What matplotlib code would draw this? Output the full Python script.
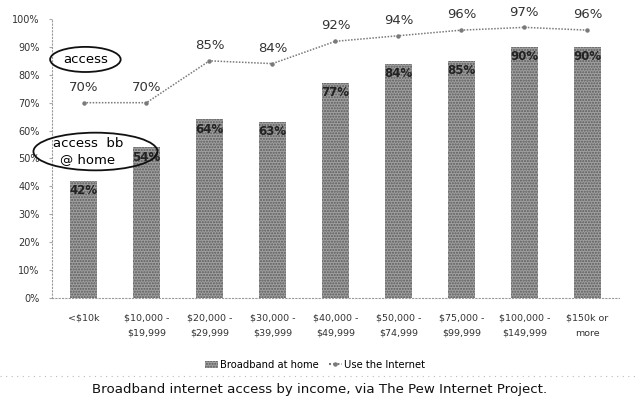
import matplotlib
matplotlib.use("Agg")
import matplotlib.pyplot as plt
from matplotlib.patches import Ellipse
from matplotlib.lines import Line2D
from matplotlib.patches import Patch

categories = ["<$10k", "$10,000 -\n$19,999", "$20,000 -\n$29,999", "$30,000 -\n$39,999",
              "$40,000 -\n$49,999", "$50,000 -\n$74,999", "$75,000 -\n$99,999",
              "$100,000 -\n$149,999", "$150k or\nmore"]
broadband = [42, 54, 64, 63, 77, 84, 85, 90, 90]
internet = [70, 70, 85, 84, 92, 94, 96, 97, 96]
yticks = [0, 10, 20, 30, 40, 50, 60, 70, 80, 90, 100]

fig = plt.figure(figsize=(6.39, 4.04), dpi=100)
ax = fig.add_axes([0.0814, 0.2624, 0.887, 0.6906])
x = list(range(len(categories)))

ax.bar(x, broadband, width=0.43, color="#a0a0a0", edgecolor="#5a5a5a",
       hatch="......", linewidth=0, zorder=2)
ax.plot(x, internet, color="#7a7a7a", linestyle=(0, (1, 1)), linewidth=1.1,
        marker="o", markersize=2.2, zorder=3)

for xi, v in zip(x, broadband):
    ax.text(xi, v - 3.5, f"{v}%", ha="center", va="center", fontsize=8.5,
            fontweight="bold", color="#222222", zorder=4)
for xi, v in zip(x, internet):
    ax.text(xi, v + 5.5, f"{v}%", ha="center", va="center", fontsize=9.5,
            color="#333333", zorder=4)

ax.set_xlim(-0.5, len(categories) - 0.5)
ax.set_ylim(0, 100)
ax.set_yticks(yticks)
ax.set_yticklabels([f"{t}%" for t in yticks], fontsize=7, color="#333333")
ax.set_xticks(x)
ax.set_xticklabels(categories, fontsize=6.8, color="#333333", linespacing=1.9)
ax.tick_params(axis="x", length=0, pad=11)
ax.tick_params(axis="y", length=2, color="#aaaaaa", pad=7)
for s in ["top", "right"]:
    ax.spines[s].set_visible(False)
ax.spines["left"].set_linestyle((0, (1, 2)))
ax.spines["left"].set_color("#999999")
ax.spines["bottom"].set_linestyle((0, (1, 2)))
ax.spines["bottom"].set_color("#999999")

# annotations (ellipses)
e1 = Ellipse((0.03, 85.5), 1.12, 9.0, fill=False, edgecolor="#111111", linewidth=1.3,
             zorder=5, clip_on=False)
ax.add_patch(e1)
ax.text(0.03, 85.5, "access", ha="center", va="center", fontsize=9.5, zorder=6)
e2 = Ellipse((0.19, 52.5), 1.97, 13.5, fill=False, edgecolor="#111111",
             linewidth=1.3, zorder=5, clip_on=False)
ax.add_patch(e2)
ax.text(0.07, 52.5, "access  bb\n@ home", ha="center", va="center", fontsize=9.5,
        linespacing=1.25, zorder=6)

handles = [Patch(facecolor="#a0a0a0", edgecolor="#5a5a5a", hatch="......", linewidth=0),
           Line2D([0], [0], color="#7a7a7a", linestyle=(0, (1, 1)), marker="o",
                  markersize=2.2)]
fig.legend(handles, ["Broadband at home", "Use the Internet"], loc="center",
           bbox_to_anchor=(0.493, 0.097), ncol=2, frameon=False, fontsize=7.2,
           handlelength=1.3, columnspacing=1.0, handletextpad=0.2)

fig.add_artist(Line2D([0.0, 1.0], [0.07, 0.07], transform=fig.transFigure,
                      color="#bbbbbb", linestyle=(0, (1, 4)), linewidth=0.8))
fig.text(0.5, 0.035, "Broadband internet access by income, via The Pew Internet Project.",
         ha="center", va="center", fontsize=9.6, color="#111111")

fig.savefig("out.png", dpi=100)
